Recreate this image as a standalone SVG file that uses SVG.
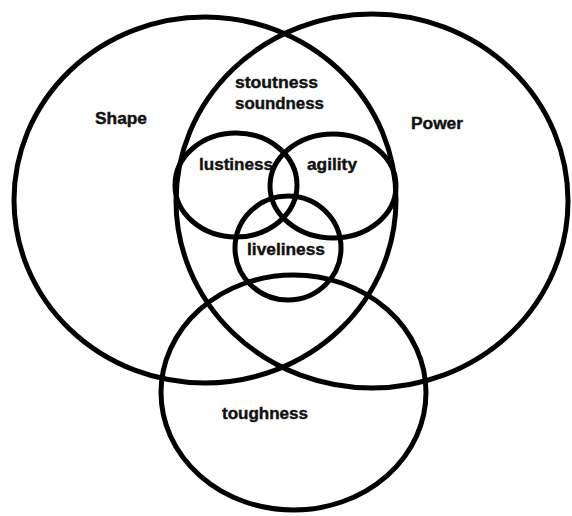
<svg xmlns="http://www.w3.org/2000/svg" width="572" height="516" viewBox="0 0 572 516">
<style>
.c{fill:none;stroke:#000;stroke-width:5}
.t{font-family:"Liberation Sans",Arial,sans-serif;font-weight:bold;font-size:16px;fill:#111;stroke:#111;stroke-width:0.4}
</style>
<rect width="572" height="516" fill="#fff"/>
<g id="shape"><ellipse class="c" cx="205" cy="200" rx="191" ry="183"/><text class="t" x="95" y="124" textLength="52" lengthAdjust="spacingAndGlyphs">Shape</text></g>
<g id="power"><ellipse class="c" cx="372" cy="201" rx="196" ry="187"/><text class="t" x="411" y="129" textLength="52" lengthAdjust="spacingAndGlyphs">Power</text></g>
<g id="stoutness"><text class="t" x="235" y="88" textLength="83" lengthAdjust="spacingAndGlyphs">stoutness</text><text class="t" x="235" y="109" textLength="89" lengthAdjust="spacingAndGlyphs">soundness</text></g>
<g id="lustiness"><ellipse class="c" cx="236" cy="185" rx="61" ry="52"/><text class="t" x="199" y="170" textLength="74" lengthAdjust="spacingAndGlyphs">lustiness</text></g>
<g id="agility"><ellipse class="c" cx="333" cy="186" rx="63" ry="52"/><text class="t" x="307" y="170" textLength="50" lengthAdjust="spacingAndGlyphs">agility</text></g>
<g id="liveliness"><ellipse class="c" cx="288" cy="248" rx="53" ry="52"/><text class="t" x="247" y="255" textLength="78" lengthAdjust="spacingAndGlyphs">liveliness</text></g>
<g id="toughness"><ellipse class="c" cx="293.5" cy="392.5" rx="132.5" ry="117.5"/><text class="t" x="222" y="419" textLength="86" lengthAdjust="spacingAndGlyphs">toughness</text></g>
<g id="connectors"/>
</svg>
